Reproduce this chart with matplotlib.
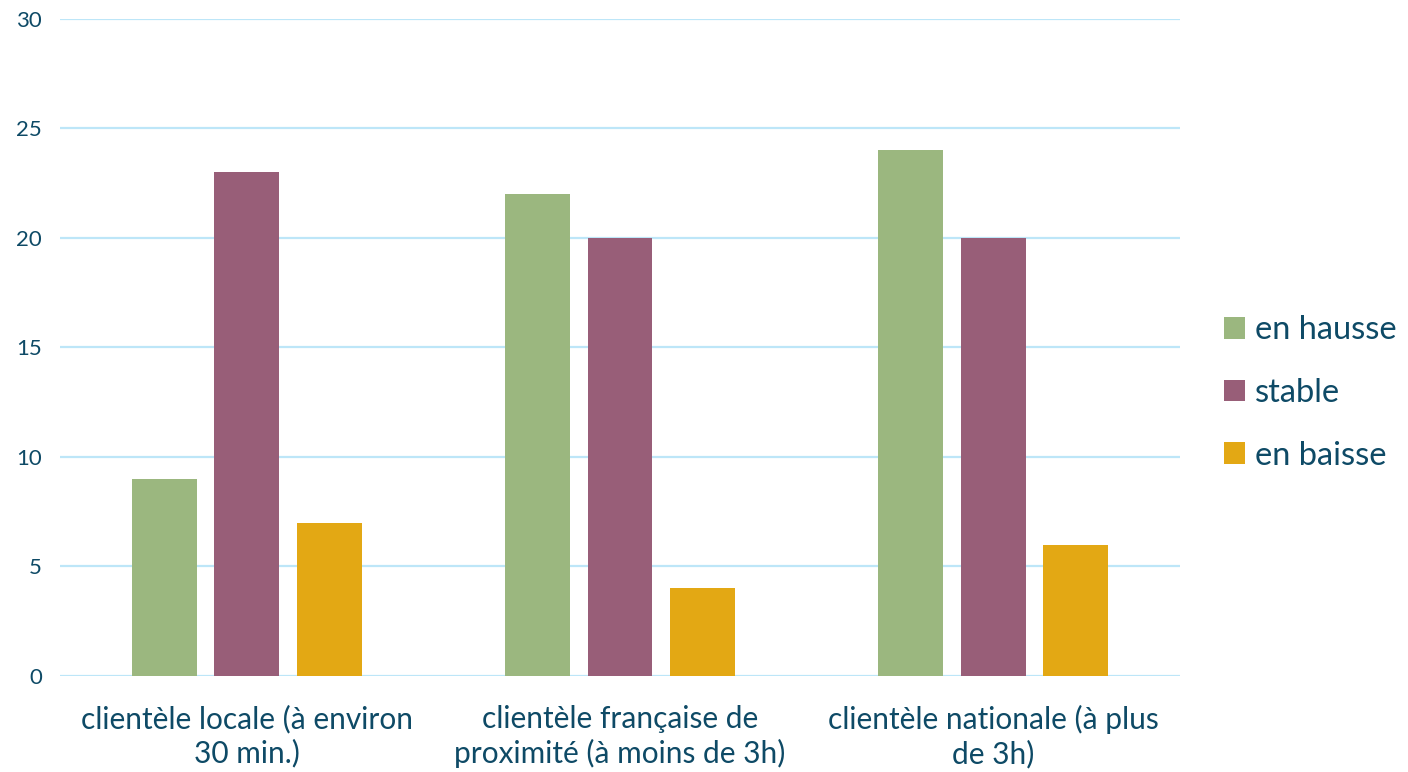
import matplotlib
matplotlib.use("Agg")
import matplotlib.pyplot as plt
import numpy as np
from matplotlib.patches import Patch

categories = [
    "clientèle locale (à environ\n30 min.)",
    "clientèle française de\nproximité (à moins de 3h)",
    "clientèle nationale (à plus\nde 3h)",
]
series_names = ["en hausse", "stable", "en baisse"]
en_hausse = [9, 22, 24]
stable = [23, 20, 20]
en_baisse = [7, 4, 6]
y_ticks = [0, 5, 10, 15, 20, 25, 30]

colors = ["#9BB77F", "#985E78", "#E3A814"]
text_color = "#0E4A66"
grid_color = "#BDE6F8"

plt.rcParams["font.family"] = ["Lato", "DejaVu Sans"]

fig = plt.figure(figsize=(14.08, 7.72), dpi=100)
ax = fig.add_axes([0.0426, 0.1244, 0.7955, 0.851])

x = np.arange(len(categories))
width = 0.174
step = 0.221
for i, (vals, name) in enumerate(zip([en_hausse, stable, en_baisse], series_names)):
    ax.bar(x + (i - 1) * step, vals, width, color=colors[i], label=name, zorder=3)

ax.set_xlim(-0.5, 2.5)
ax.set_ylim(0, 30)
ax.set_yticks(y_ticks)
ax.set_xticks(x)
ax.set_xticklabels(categories, fontsize=21.5, color=text_color, linespacing=1.23)
ax.tick_params(axis="x", length=0, pad=21)
ax.tick_params(axis="y", length=0, pad=13, labelsize=16, labelcolor=text_color)
ax.grid(axis="y", color=grid_color, linewidth=1.6, zorder=0)
for s in ax.spines.values():
    s.set_visible(False)

handles = [Patch(facecolor=c, edgecolor="none") for c in colors]
fig.legend(handles, series_names, loc="center left", bbox_to_anchor=(0.869, 0.491),
           frameon=False, fontsize=23.5, labelcolor=text_color, handlelength=0.65,
           handleheight=0.65, handletextpad=0.3, labelspacing=1.0,
           borderpad=0, borderaxespad=0)

fig.savefig("out.png", dpi=100)
